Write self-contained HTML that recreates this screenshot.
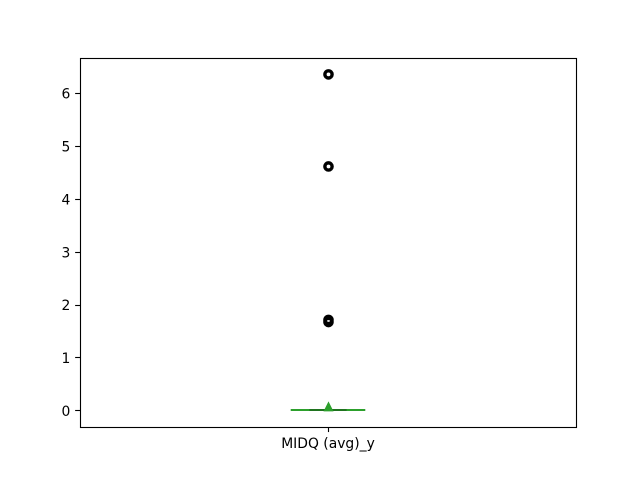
<!DOCTYPE html>
<html>
<head>
<meta charset="utf-8">
<style>
html,body{margin:0;padding:0;background:#fff}
svg{display:block}
text{font-family:"DejaVu Sans",sans-serif;font-size:13.89px;fill:#000}
</style>
</head>
<body>
<svg id="chart" xmlns="http://www.w3.org/2000/svg" width="640" height="480" viewBox="0 0 640 480">
<rect x="0" y="0" width="640" height="480" fill="#fff"/>
</svg>
<script>
const categories = ["MIDQ (avg)_y"];
const yTicks = [0, 1, 2, 3, 4, 5, 6];
const q1Values = [0];
const q3Values = [0];
const medianValues = [0];
const whiskerLowValues = [0];
const whiskerHighValues = [0];
const meanValues = [0.07];
const fliers = [[1.67, 1.71, 4.61, 6.35]];

const svg = document.getElementById('chart');
const NS = 'http://www.w3.org/2000/svg';
const plot = {left: 80, right: 576, top: 57.6, bottom: 427.2};
const yMin = -0.3175, yMax = 6.6675;
const xMin = 0.5, xMax = 1.5;
function xScale(v) { return plot.left + (v - xMin) / (xMax - xMin) * (plot.right - plot.left); }
function yScale(v) { return plot.bottom - (v - yMin) / (yMax - yMin) * (plot.bottom - plot.top); }
function snap(p) { return Math.floor(p + 0.5) + 0.5; }
function snapEven(p) { return Math.floor(p + 0.5); }
function add(tag, attrs, parent) {
  const el = document.createElementNS(NS, tag);
  for (const k in attrs) el.setAttribute(k, attrs[k]);
  (parent || svg).appendChild(el);
  return el;
}
const lw = 1.11;

yTicks.forEach(function (t) {
  const y = snap(yScale(t));
  const tick = add('line', {x1: plot.left - 4.86, x2: plot.left, y1: y, y2: y, stroke: '#000', 'stroke-width': lw});
  
  
  const label = add('text', {x: plot.left - 9.7, y: yScale(t) + 5.6, 'text-anchor': 'end'});
  label.textContent = String(t);
  
  
});

categories.forEach(function (c, i) {
  const pos = i + 1;
  const cx = xScale(pos);
  const boxHalf = (xScale(pos + 0.075) - cx);
  const capHalf = boxHalf / 2;
  const sx = snap(cx);

  const tick = add('line', {x1: sx, x2: sx, y1: plot.bottom, y2: plot.bottom + 4.86, stroke: '#000', 'stroke-width': lw});
  
  
  const label = add('text', {x: cx, y: plot.bottom + 21, 'text-anchor': 'middle'});
  label.textContent = c;
  
  

  const boxTop = snapEven(yScale(q3Values[i]));
  const boxBottom = snapEven(yScale(q1Values[i]));
  const box = add('path', {d: 'M' + (cx - boxHalf) + ' ' + boxBottom + 'H' + (cx + boxHalf) + 'V' + boxTop + 'H' + (cx - boxHalf) + 'Z', fill: 'none', stroke: '#000', 'stroke-width': lw});
  
  

  const whiskerLow = add('line', {x1: sx, x2: sx, y1: yScale(q1Values[i]), y2: yScale(whiskerLowValues[i]), stroke: '#000', 'stroke-width': lw});
  
  
  const whiskerHigh = add('line', {x1: sx, x2: sx, y1: yScale(q3Values[i]), y2: yScale(whiskerHighValues[i]), stroke: '#000', 'stroke-width': lw});
  
  

  const median = add('line', {x1: cx - boxHalf, x2: cx + boxHalf, y1: snapEven(yScale(medianValues[i])), y2: snapEven(yScale(medianValues[i])), stroke: '#2ca02c', 'stroke-width': 2.08});
  
  

  const capLow = add('line', {x1: cx - capHalf, x2: cx + capHalf, y1: snapEven(yScale(whiskerLowValues[i])), y2: snapEven(yScale(whiskerLowValues[i])), stroke: '#000', 'stroke-width': 2, 'stroke-opacity': 0.15});
  
  
  const capHigh = add('line', {x1: cx - capHalf, x2: cx + capHalf, y1: snapEven(yScale(whiskerHighValues[i])), y2: snapEven(yScale(whiskerHighValues[i])), stroke: '#000', 'stroke-width': 2, 'stroke-opacity': 0.15});
  
  

  fliers[i].forEach(function (v, j) {
    const dot = add('circle', {cx: sx, cy: yScale(v), r: 3.6, fill: 'none', stroke: '#000', 'stroke-width': 3.4});
    
    
  });

  const my = yScale(meanValues[i]);
  const mean = add('polygon', {points: (sx - 4.2) + ',' + (my + 4.2) + ' ' + (sx + 4.2) + ',' + (my + 4.2) + ' ' + sx + ',' + (my - 4.2), fill: '#2ca02c', stroke: '#2ca02c', 'stroke-width': 1});
  
  
});

const frame = add('rect', {x: 80.5, y: 58.5, width: 496, height: 369, fill: 'none', stroke: '#000', 'stroke-width': lw});


</script>
</body>
</html>
